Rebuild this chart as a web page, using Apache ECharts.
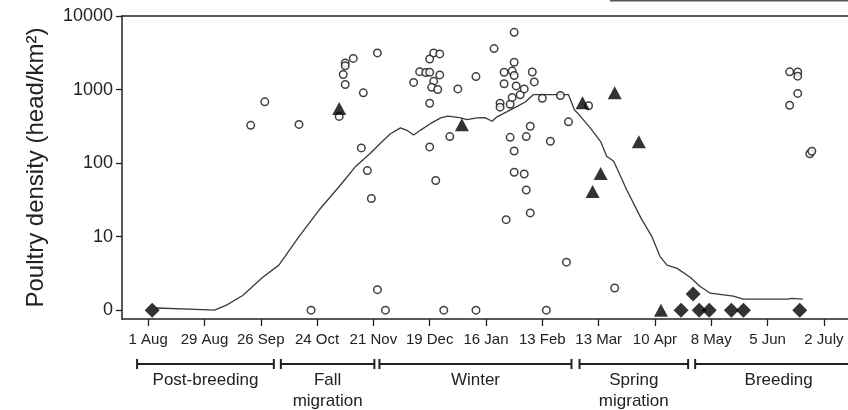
<!DOCTYPE html>
<html>
<head>
<meta charset="UTF-8">
<title></title>
<script src="https://cdn.jsdelivr.net/npm/echarts@6/dist/echarts.min.js"></script>
<style>
  html, body { margin: 0; padding: 0; background: #fff; }
  #main { width: 848px; height: 410px; }
</style>
</head>
<body>
<div id="main"></div>
<script>
// x = days since 1 Aug, y = poultry density (head/km2)
var xTickDays = [0, 28, 56, 84, 112, 140, 168, 196, 224, 252, 280, 308, 336];
var xTickLabels = ['1 Aug', '29 Aug', '26 Sep', '24 Oct', '21 Nov', '19 Dec', '16 Jan', '13 Feb', '13 Mar', '10 Apr', '8 May', '5 Jun', '2 July'];
var yTickValues = [0, 1, 2, 3, 4];
var yTickLabels = ['0', '10', '100', '1000', '10000'];

// open circles
var circleDays = [51, 58, 75, 81, 95, 98, 98, 97, 98, 102, 107, 106, 109, 111, 114, 114, 118,
  132, 135, 138, 140, 140, 142, 145, 145, 142, 141, 144, 140, 140, 143, 147, 150, 154,
  163, 163, 172, 175, 175, 177, 177, 180, 180, 182, 182, 181, 182, 183, 181, 185, 187,
  182, 182, 187, 188, 190, 191, 192, 188, 190, 178, 196, 200, 198, 205, 209, 208, 219,
  232, 319, 323, 323, 323, 319, 329, 330];
var circleDensity = [325, 680, 335, 0, 430, 2300, 2100, 1600, 1170, 2650, 900, 160, 78, 32, 3150, 0.9, 0,
  1250, 1750, 1700, 1720, 2600, 3150, 3050, 1580, 1300, 1070, 1000, 650, 165, 57, 0, 228, 1020,
  1500, 0, 3600, 650, 575, 1720, 1200, 630, 223, 6000, 2350, 1780, 1550, 1120, 780, 850, 1020,
  145, 74, 70, 228, 316, 1730, 1270, 42, 20, 16, 760, 197, 0, 830, 363, 3.5, 600,
  1, 1740, 1730, 1520, 885, 610, 133, 144];

// filled triangles
var triDays = [95, 156, 216, 221, 225, 232, 244, 255];
var triDensity = [553, 330, 660, 40, 71, 905, 194, 0];

// filled diamonds
var diaDays = [2, 265, 271, 274, 279, 290, 296, 324];
var diaDensity = [0, 0, 0.66, 0, 0, 0, 0, 0];

// running mean line
var lineDays = [4, 27, 33, 39, 47, 57, 65, 75, 85, 95, 103, 110.5, 115.5, 120.5, 125.5, 129, 132,
  135.5, 140.5, 145.5, 149, 152, 155.5, 158.5, 163.5, 167.5, 171, 173.5, 178.5, 183.5, 187.5,
  191.5, 198.5, 203.5, 209, 212, 213.5, 220, 225, 228, 231.5, 238, 245, 250.5, 254.5, 258,
  263, 269.5, 274.5, 279.5, 291, 296, 318, 320, 325.5];
var lineDensity = [0.07, 0.02, 0, 0.17, 0.58, 1.8, 3.1, 9, 22, 47, 88, 135, 185, 250, 300, 275, 240,
  280, 345, 410, 435, 425, 410, 390, 410, 415, 370, 425, 500, 590, 675,
  850, 850, 850, 850, 525, 480, 295, 195, 123, 105, 42, 17, 9, 4.4, 3.1,
  2.7, 1.8, 1.1, 0.7, 0.55, 0.41, 0.41, 0.45, 0.41];

// periods under the axis
var periodNames = ['Post-breeding', 'Fall\nmigration', 'Winter', 'Spring\nmigration', 'Breeding'];
var periodStart = [-5.5, 66, 115, 214.5, 272];
var periodEnd = [62.5, 112.5, 210.5, 268.5, 355];

function toPlot(days, dens) {
  var out = [];
  for (var i = 0; i < days.length; i++) {
    out.push([days[i], Math.log10(dens[i] + 1)]);
  }
  return out;
}

var periodData = [];
for (var i = 0; i < periodNames.length; i++) {
  periodData.push([periodStart[i], periodEnd[i], i]);
}

var ink = '#222';
var font = 'Liberation Sans';

var myChart = echarts.init(document.getElementById('main'));
var option = {
  animation: false,
  textStyle: { fontFamily: font },
  grid: [
    { left: 122, right: 0, top: 16, height: 303 },
    { left: 122, right: 0, top: 354, height: 20 }
  ],
  xAxis: [{
    type: 'value',
    gridIndex: 0,
    min: -13,
    max: 348,
    splitLine: { show: false },
    axisLine: { onZero: false, lineStyle: { color: ink, width: 1.5 } },
    axisTick: { length: 7, lineStyle: { color: ink, width: 1.3 }, customValues: xTickDays },
    axisLabel: {
      customValues: xTickDays,
      margin: 13,
      fontSize: 15,
      color: ink,
      formatter: function(v) {
        return xTickLabels[xTickDays.indexOf(v)];
      }
    }
  }, {
    // top frame line
    type: 'value',
    gridIndex: 0,
    position: 'top',
    min: -13,
    max: 348,
    splitLine: { show: false },
    axisLine: { onZero: false, lineStyle: { color: ink, width: 1.5 } },
    axisTick: { show: false },
    axisLabel: { show: false }
  }, {
    type: 'value',
    gridIndex: 1,
    min: -13,
    max: 348,
    show: false
  }],
  yAxis: [{
    type: 'value',
    gridIndex: 0,
    min: -0.12,
    max: 4,
    name: 'Poultry density (head/km²)',
    nameLocation: 'middle',
    nameGap: 74,
    nameTextStyle: { fontSize: 24, color: ink },
    splitLine: { show: false },
    axisLine: { onZero: false, lineStyle: { color: ink, width: 1.5 } },
    axisTick: { length: 6, lineStyle: { color: ink, width: 1.3 }, customValues: yTickValues },
    axisLabel: {
      customValues: yTickValues,
      margin: 9,
      fontSize: 18,
      color: ink,
      formatter: function(v) {
        return yTickLabels[yTickValues.indexOf(v)];
      }
    }
  }, {
    type: 'value',
    gridIndex: 1,
    min: 0,
    max: 1,
    show: false
  }],
  graphic: [{
    // edge of the cropped box at top right
    type: 'line',
    shape: { x1: 610, y1: 0.5, x2: 848, y2: 0.5 },
    style: { stroke: '#555', lineWidth: 2 }
  }],
  series: [{
    type: 'line',
    xAxisIndex: 0,
    yAxisIndex: 0,
    data: toPlot(lineDays, lineDensity),
    showSymbol: false,
    lineStyle: { color: '#3a3a3a', width: 1.3 },
    z: 2
  }, {
    type: 'scatter',
    xAxisIndex: 0,
    yAxisIndex: 0,
    data: toPlot(circleDays, circleDensity),
    symbol: 'circle',
    symbolSize: 7.5,
    itemStyle: { color: '#fff', borderColor: '#111', borderWidth: 1.5 },
    z: 3
  }, {
    type: 'scatter',
    xAxisIndex: 0,
    yAxisIndex: 0,
    data: toPlot(triDays, triDensity),
    symbol: 'triangle',
    symbolSize: [14, 13],
    itemStyle: { color: '#000' },
    z: 4
  }, {
    type: 'scatter',
    xAxisIndex: 0,
    yAxisIndex: 0,
    data: toPlot(diaDays, diaDensity),
    symbol: 'diamond',
    symbolSize: 15,
    itemStyle: { color: '#000' },
    z: 5
  }, {
    type: 'custom',
    xAxisIndex: 2,
    yAxisIndex: 1,
    data: periodData,
    clip: false,
    renderItem: function(params, api) {
      var s = api.coord([api.value(0), 0.5]);
      var e = api.coord([api.value(1), 0.5]);
      var name = periodNames[api.value(2)];
      var lineSt = { stroke: ink, lineWidth: 2 };
      return {
        type: 'group',
        children: [
          { type: 'line', shape: { x1: s[0], y1: s[1], x2: e[0], y2: e[1] }, style: lineSt },
          { type: 'line', shape: { x1: s[0], y1: s[1] - 5, x2: s[0], y2: s[1] + 5 }, style: lineSt },
          { type: 'line', shape: { x1: e[0], y1: e[1] - 5, x2: e[0], y2: e[1] + 5 }, style: lineSt },
          {
            type: 'text',
            style: {
              text: name,
              x: (s[0] + e[0]) / 2,
              y: s[1] + 6,
              align: 'center',
              verticalAlign: 'top',
              fontSize: 17,
              fontFamily: font,
              lineHeight: 21,
              fill: ink
            }
          }
        ]
      };
    }
  }]
};
myChart.setOption(option);
</script>
</body>
</html>
